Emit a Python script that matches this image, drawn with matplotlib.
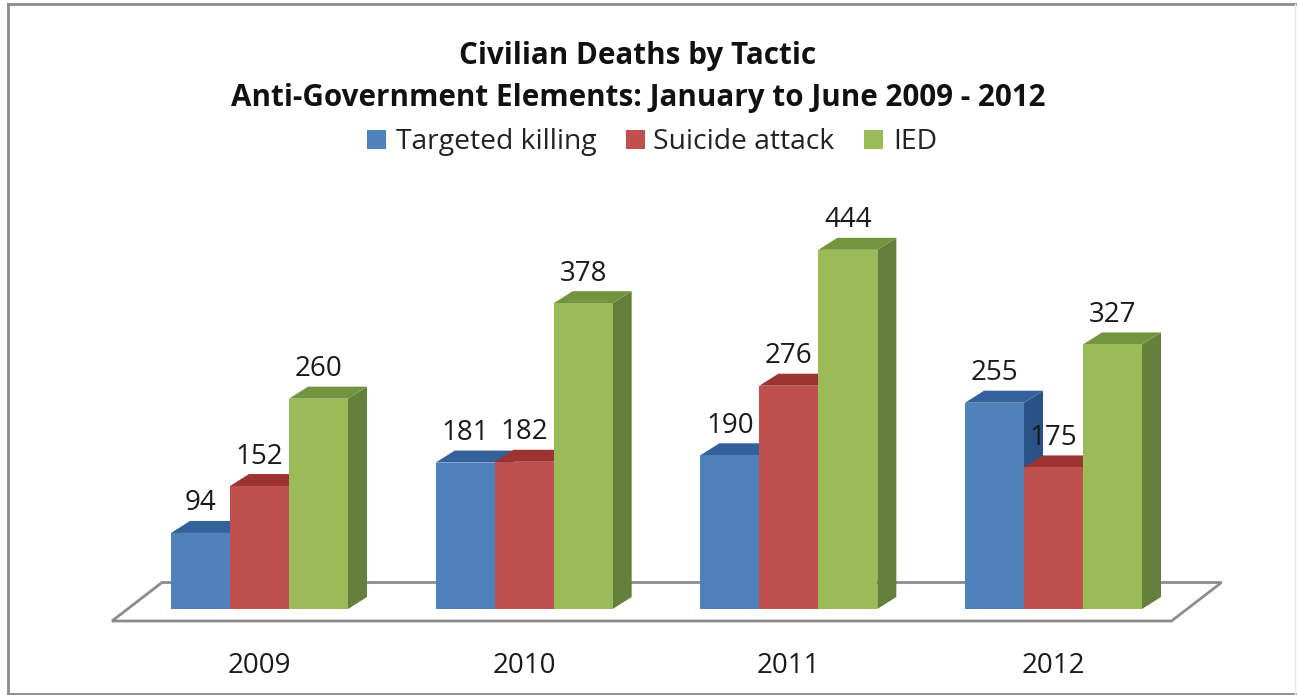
import matplotlib
matplotlib.use("Agg")
import matplotlib.pyplot as plt
from matplotlib.patches import Polygon, Rectangle

years = ["2009", "2010", "2011", "2012"]
series_names = ["Targeted killing", "Suicide attack", "IED"]
targeted = [94, 181, 190, 255]
suicide = [152, 182, 276, 175]
ied = [260, 378, 444, 327]
series = [targeted, suicide, ied]

front = ["#4F81BD", "#C0504D", "#9BBB59"]
top = ["#34619C", "#9C3432", "#74953F"]
side = ["#2B5287", "#7F2E2B", "#64803A"]

plt.rcParams['font.family'] = ['Open Sans', 'DejaVu Sans']
W, H = 1298, 695
fig = plt.figure(figsize=(W / 100, H / 100), dpi=100, facecolor="white")
ax = fig.add_axes([0, 0, 1, 1])

group_px = 264.67
unit_px = 0.809
x0_px = 259.5
base_px = 609
ax.set_xlim(-x0_px / group_px, (W - x0_px) / group_px)
ax.set_ylim(-(H - base_px) / unit_px, base_px / unit_px)
ax.axis("off")

dx = 19 / group_px
dy = 12 / unit_px
bw = 59 / group_px

# frame: the right edge is very faint in the reference
fx_l, fx_r = 7.5 / W, 1295 / W
fy_t, fy_b = 1 - 3.5 / H, 1 - 693.5 / H
ax.plot([fx_l, fx_l], [fy_b, fy_t], transform=ax.transAxes, color="#8C8C8C", lw=2)
ax.plot([fx_l, fx_r], [fy_t, fy_t], transform=ax.transAxes, color="#8C8C8C", lw=2)
ax.plot([fx_l, fx_r], [fy_b, fy_b], transform=ax.transAxes, color="#8C8C8C", lw=2)
ax.plot([fx_r, fx_r], [fy_b, fy_t], transform=ax.transAxes, color="#E8E8E8", lw=1)

# floor
fl = -12 / unit_px
fh = 26.5 / unit_px
fx0, fx1 = -147.5 / group_px, 3 + 118 / group_px
ax.add_patch(Polygon([(fx0, fl), (fx1, fl), (fx1 + 50 / group_px, fh), (fx0 + 50 / group_px, fh)],
                     closed=True, fc="white", ec="#8C8C8C", lw=2, zorder=1))

order = 2
for i in range(len(years)):
    for j in range(3):
        v = series[j][i]
        left = i + (j - 1.5) * bw
        right = left + bw
        ax.add_patch(Polygon([(right, 0), (right + dx, dy), (right + dx, v + dy), (right, v)],
                             closed=True, fc=side[j], ec="none", zorder=order))
        ax.add_patch(Polygon([(left, v), (left + dx, v + dy), (right + dx, v + dy), (right, v)],
                             closed=True, fc=top[j], ec="none", zorder=order))
        ax.add_patch(Rectangle((left, 0), bw, v, fc=front[j], ec="none", zorder=order + 0.5))
        order += 1
        ax.text(left + bw / 2, v + dy + 3.5 / unit_px, str(v), ha="center", va="bottom",
                fontsize=20, color="#1A1A1A", zorder=50)
    ax.text(i, -57 / unit_px, years[i], ha="center", va="center", fontsize=20, color="#1A1A1A")

cx = 638 / W
fig.text(cx, 1 - 56 / H, "Civilian Deaths by Tactic", ha="center", va="center",
         fontsize=21.3, fontweight="bold", color="#111111")
fig.text(cx, 1 - 98 / H, "Anti-Government Elements: January to June 2009 - 2012", ha="center",
         va="center", fontsize=21.3, fontweight="bold", color="#111111")

legend_x = [367, 626, 864]
legend_text_x = [396, 653, 893]
for name, c, lx, tx in zip(series_names, front, legend_x, legend_text_x):
    fig.patches.append(Rectangle((lx / W, 1 - 149 / H), 18.5 / W, 19.5 / H, transform=fig.transFigure,
                                 fc=c, ec="none", figure=fig))
    fig.text(tx / W, 1 - 142 / H, name, ha="left", va="center", fontsize=20.3, color="#222222")

fig.savefig("out.png", dpi=100)
